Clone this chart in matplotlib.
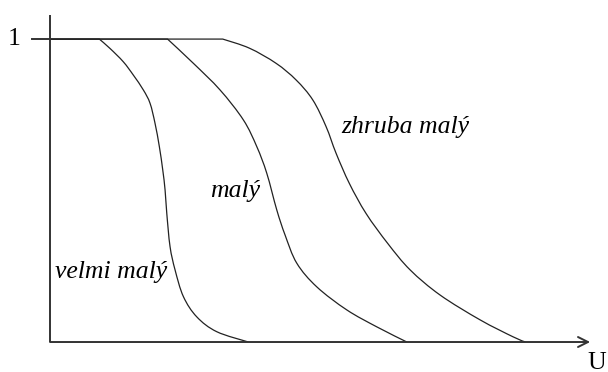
import matplotlib
matplotlib.use("Agg")
import matplotlib.pyplot as plt
from matplotlib.path import Path
from matplotlib.patches import PathPatch

# membership curves (U in 0..100, mu in 0..1)
velmi_x = [0, 9.13, 11.11, 13.57, 15.43, 17.28, 18.52, 19.44, 20.24, 20.87, 21.30,
           21.61, 22.22, 23.15, 24.69, 27.17, 30.87, 36.72]
velmi_mu = [1, 1.0, 0.969, 0.925, 0.881, 0.832, 0.788, 0.722, 0.645, 0.568, 0.502,
            0.426, 0.315, 0.238, 0.150, 0.083, 0.034, 0.0]
maly_x = [0, 21.76, 26.54, 31.48, 35.80, 38.28, 40.13, 41.98, 43.52, 45.69, 49.39,
          54.94, 60.50, 66.06]
maly_mu = [1, 1.0, 0.920, 0.832, 0.733, 0.645, 0.557, 0.436, 0.353, 0.260, 0.182,
           0.106, 0.050, 0.0]
zhruba_x = [0, 31.98, 36.91, 41.85, 45.56, 48.65, 51.11, 52.96, 55.43, 58.52, 62.54,
            66.67, 72.22, 79.63, 85.74, 88.0]
zhruba_mu = [1, 1.0, 0.970, 0.920, 0.865, 0.799, 0.711, 0.623, 0.523, 0.424, 0.325,
             0.238, 0.155, 0.073, 0.017, 0.0]

labels = ["velmi malý", "malý", "zhruba malý"]
label_pos = [(0.9, 0.21), (29.6, 0.48), (54.0, 0.69)]


def smooth_path(xs, ys):
    # flat top as a straight line, then a Catmull-Rom curve through the points
    verts = [(xs[0], ys[0]), (xs[1], ys[1])]
    codes = [Path.MOVETO, Path.LINETO]
    px, py = xs[1:], ys[1:]
    n = len(px)
    for i in range(n - 1):
        x0, y0 = (px[i - 1], py[i - 1]) if i > 0 else (px[i], py[i])
        x3, y3 = (px[i + 2], py[i + 2]) if i + 2 < n else (px[i + 1], py[i + 1])
        c1 = (px[i] + (px[i + 1] - x0) / 6, py[i] + (py[i + 1] - y0) / 6)
        c2 = (px[i + 1] - (x3 - px[i]) / 6, py[i + 1] - (y3 - py[i]) / 6)
        verts += [c1, c2, (px[i + 1], py[i + 1])]
        codes += [Path.CURVE4] * 3
    return Path(verts, codes)


fig = plt.figure(figsize=(6.08, 3.72), dpi=100)
ax = fig.add_axes([0, 0, 1, 1])
ax.set_xlim(-9.26, 103.3)
ax.set_ylim(-0.099, 1.129)
ax.axis("off")

for xs, ys in [(velmi_x, velmi_mu), (maly_x, maly_mu), (zhruba_x, zhruba_mu)]:
    ax.add_patch(PathPatch(smooth_path(xs, ys), facecolor="none", edgecolor="#222222", lw=0.9))

# axes
ax.plot([0, 0], [0, 1.079], color="#333333", lw=1.4, solid_capstyle="butt")
ax.annotate("", xy=(100, 0), xytext=(0, 0),
            arrowprops=dict(arrowstyle="->", color="#333333", lw=1.4,
                            mutation_scale=18, shrinkA=0, shrinkB=0))
ax.plot([-3.3, 0], [1, 1], color="#333333", lw=1.4)

serif = "Liberation Serif"
ax.text(-6.7, 1.0, "1", family=serif, fontsize=18.5, ha="center", va="center")
ax.text(101.3, -0.089, "U", family=serif, fontsize=18.5, ha="center", va="baseline")

for text, (x, y) in zip(labels, label_pos):
    ax.text(x, y, text, family=serif, style="italic", fontsize=18.5,
            ha="left", va="baseline")

fig.savefig("out.png", dpi=100)
